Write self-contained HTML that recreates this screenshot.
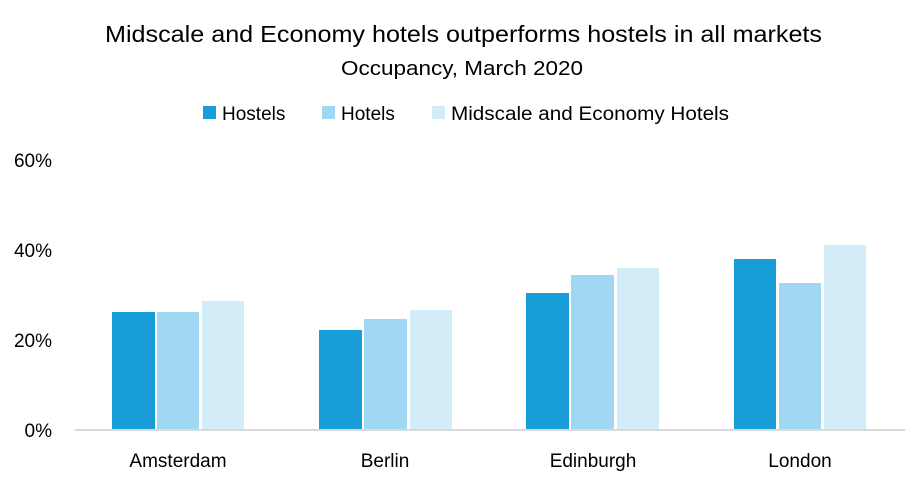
<!DOCTYPE html>
<html><head><style>
body{margin:0;background:#fff;}
</style></head><body>
<svg width="924" height="485" xmlns="http://www.w3.org/2000/svg" font-family="Liberation Sans, sans-serif">
<rect width="924" height="485" fill="#fff"/>
<text x="105" y="42" font-size="23" fill="#000" textLength="717" lengthAdjust="spacingAndGlyphs">Midscale and Economy hotels outperforms hostels in all markets</text>
<text x="341" y="75" font-size="20" fill="#000" textLength="242" lengthAdjust="spacingAndGlyphs">Occupancy, March 2020</text>
<rect x="203" y="106" width="13" height="13" fill="#199dd8"/>
<text x="222" y="120" font-size="19">Hostels</text>
<rect x="322" y="106" width="13" height="13" fill="#a0d8f3"/>
<text x="341" y="120" font-size="19">Hotels</text>
<rect x="432" y="106" width="13" height="13" fill="#d2edf8"/>
<text x="451" y="120" font-size="19" textLength="278" lengthAdjust="spacingAndGlyphs">Midscale and Economy Hotels</text>
<g font-size="19" text-anchor="end">
<text x="52" y="167">60%</text>
<text x="52" y="257">40%</text>
<text x="52" y="347">20%</text>
<text x="52" y="437">0%</text>
</g>
<g fill="#199dd8">
<rect x="112" y="312" width="43" height="118"/>
<rect x="319" y="330" width="43" height="100"/>
<rect x="526" y="293" width="43" height="137"/>
<rect x="734" y="259" width="42" height="171"/>
</g>
<g fill="#a0d8f3">
<rect x="157" y="312" width="42" height="118"/>
<rect x="364" y="319" width="43" height="111"/>
<rect x="571" y="275" width="43" height="155"/>
<rect x="779" y="283" width="42" height="147"/>
</g>
<g fill="#d2edf8">
<rect x="202" y="301" width="42" height="129"/>
<rect x="410" y="310" width="42" height="120"/>
<rect x="617" y="268" width="42" height="162"/>
<rect x="824" y="245" width="42" height="185"/>
</g>
<rect x="75" y="429" width="830" height="2" fill="#d9d9d9"/>
<g font-size="19" text-anchor="middle">
<text x="178" y="467">Amsterdam</text>
<text x="385" y="467">Berlin</text>
<text x="593" y="467">Edinburgh</text>
<text x="800" y="467">London</text>
</g>
</svg>
</body></html>
